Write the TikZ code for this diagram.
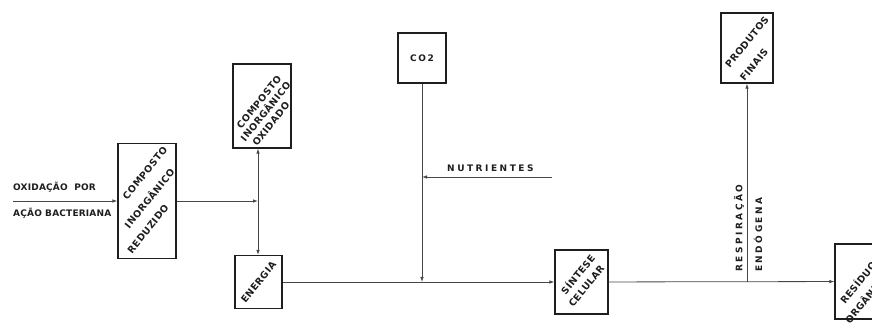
\documentclass[tikz,border=0pt]{standalone}
\usepackage{fontspec}
\usetikzlibrary{arrows.meta,positioning,calc}
\newfontfamily\boxfont[LetterSpace=5]{DejaVu Sans}
\newfontfamily\tagfont[LetterSpace=2]{DejaVu Sans}
\newfontfamily\widefont[LetterSpace=28]{DejaVu Sans}
\definecolor{ink}{RGB}{30,30,30}
\definecolor{wire}{RGB}{70,70,70}

\begin{document}
\begin{tikzpicture}[x=1pt,y=1pt,
        box/.style={draw=ink,line width=1.2pt,inner sep=0pt},
        boxline/.style={rotate=51,inner sep=0pt,text=ink,
            font=\boxfont\bfseries\fontsize{9.5}{11}\selectfont},
        tag/.style={inner sep=0pt,text=ink,font=\tagfont\bfseries\fontsize{9}{11}\selectfont},
        widetag/.style={inner sep=0pt,text=ink,font=\widefont\bfseries\fontsize{9}{11}\selectfont},
        arrow/.style={-{Latex[length=5pt,width=3.5pt]},draw=wire,line width=0.8pt}
    ]
        \useasboundingbox (0,0) rectangle (872,334);
        \clip (0,0) rectangle (872,334);

        % Input
        \coordinate (src) at (13,133);
        \node[tag,anchor=base west] (oxtag) at (13,143) {OXIDAÇÃO\ \ POR};
        \node[tag,anchor=base west] (bacttag) at (13,117) {AÇÃO BACTERIANA};

        % Reduced compound
        \node[box,minimum width=58pt,minimum height=115pt] (reduz) at (147,133) {};
        \node[boxline] (reduz-1) at ($(reduz)+(-2,28)$) {COMPOSTO};
        \node[boxline] (reduz-2) at ($(reduz)+(2,3)$) {INORGÂNICO};
        \node[boxline] (reduz-3) at ($(reduz)+(1,-28)$) {REDUZIDO};

        % Oxidized compound and energy
        \coordinate (junc) at (258,133);
        \node[box,minimum width=58pt,minimum height=84pt] (oxid) at (262,228) {};
        \node[boxline] (oxid-1) at ($(oxid)+(-3,4)$) {COMPOSTO};
        \node[boxline] (oxid-2) at ($(oxid)+(3,-5)$) {INORGÂNICO};
        \node[boxline] (oxid-3) at ($(oxid)+(9,-18)$) {OXIDADO};
        \node[box,minimum width=47pt,minimum height=53pt] (energia) at (258.5,52) {};
        \node[boxline] (energia-1) at (energia) {ENERGIA};

        % CO2 and nutrients
        \node[box,minimum width=48pt,minimum height=50pt] (co2) at (422,276) {};
        \node[tag] (co2-1) at (co2) {C\,O\,2};
        \coordinate (co2end) at (422,52);
        \coordinate (nutr) at (552,157);
        \coordinate (nutrend) at (co2end |- nutr);
        \node[widetag,anchor=base west] (nutrtag) at (447,162) {NUTRIENTES};

        % Cell synthesis
        \node[box,minimum width=53pt,minimum height=64pt] (sintese) at (581.5,52) {};
        \node[boxline] (sintese-1) at ($(sintese)+(-4,8)$) {SÍNTESE};
        \node[boxline] (sintese-2) at ($(sintese)+(5,-4)$) {CELULAR};

        % End products
        \coordinate (resp) at (747,52);
        \node[box,minimum width=52pt,minimum height=70pt] (produtos) at (747,286) {};
        \node[boxline] (produtos-1) at ($(produtos)+(0,6)$) {PRODUTOS};
        \node[boxline] (produtos-2) at ($(produtos)+(7,-17)$) {FINAIS};
        \node[widetag,rotate=90,anchor=west] (resptag) at (739,62) {RESPIRAÇÃO};
        \node[widetag,rotate=90,anchor=west] (endotag) at (758,62) {ENDÓGENA};

        % Organic residue
        \node[box,minimum width=58pt,minimum height=75pt] (residuos) at (864,52.5) {};
        \node[boxline] (residuos-1) at ($(residuos)+(-4,2)$) {RESÍDUOS};
        \node[boxline] (residuos-2) at ($(residuos)+(4,-14)$) {ORGÂNICOS};

        % Arrows
        \draw[arrow] (src) -- (reduz);
        \draw[arrow] (reduz) -- (junc);
        \draw[arrow] (junc) -- (oxid.south -| junc);
        \draw[arrow] (junc) -- (energia.north -| junc);
        \draw[arrow] (energia) -- (sintese);
        \draw[arrow] (co2) -- (co2end);
        \draw[arrow] (nutr) -- (nutrend);
        \draw[arrow] (sintese) -- (residuos);
        \draw[arrow] (resp) -- (produtos);
    \end{tikzpicture}
\end{document}
